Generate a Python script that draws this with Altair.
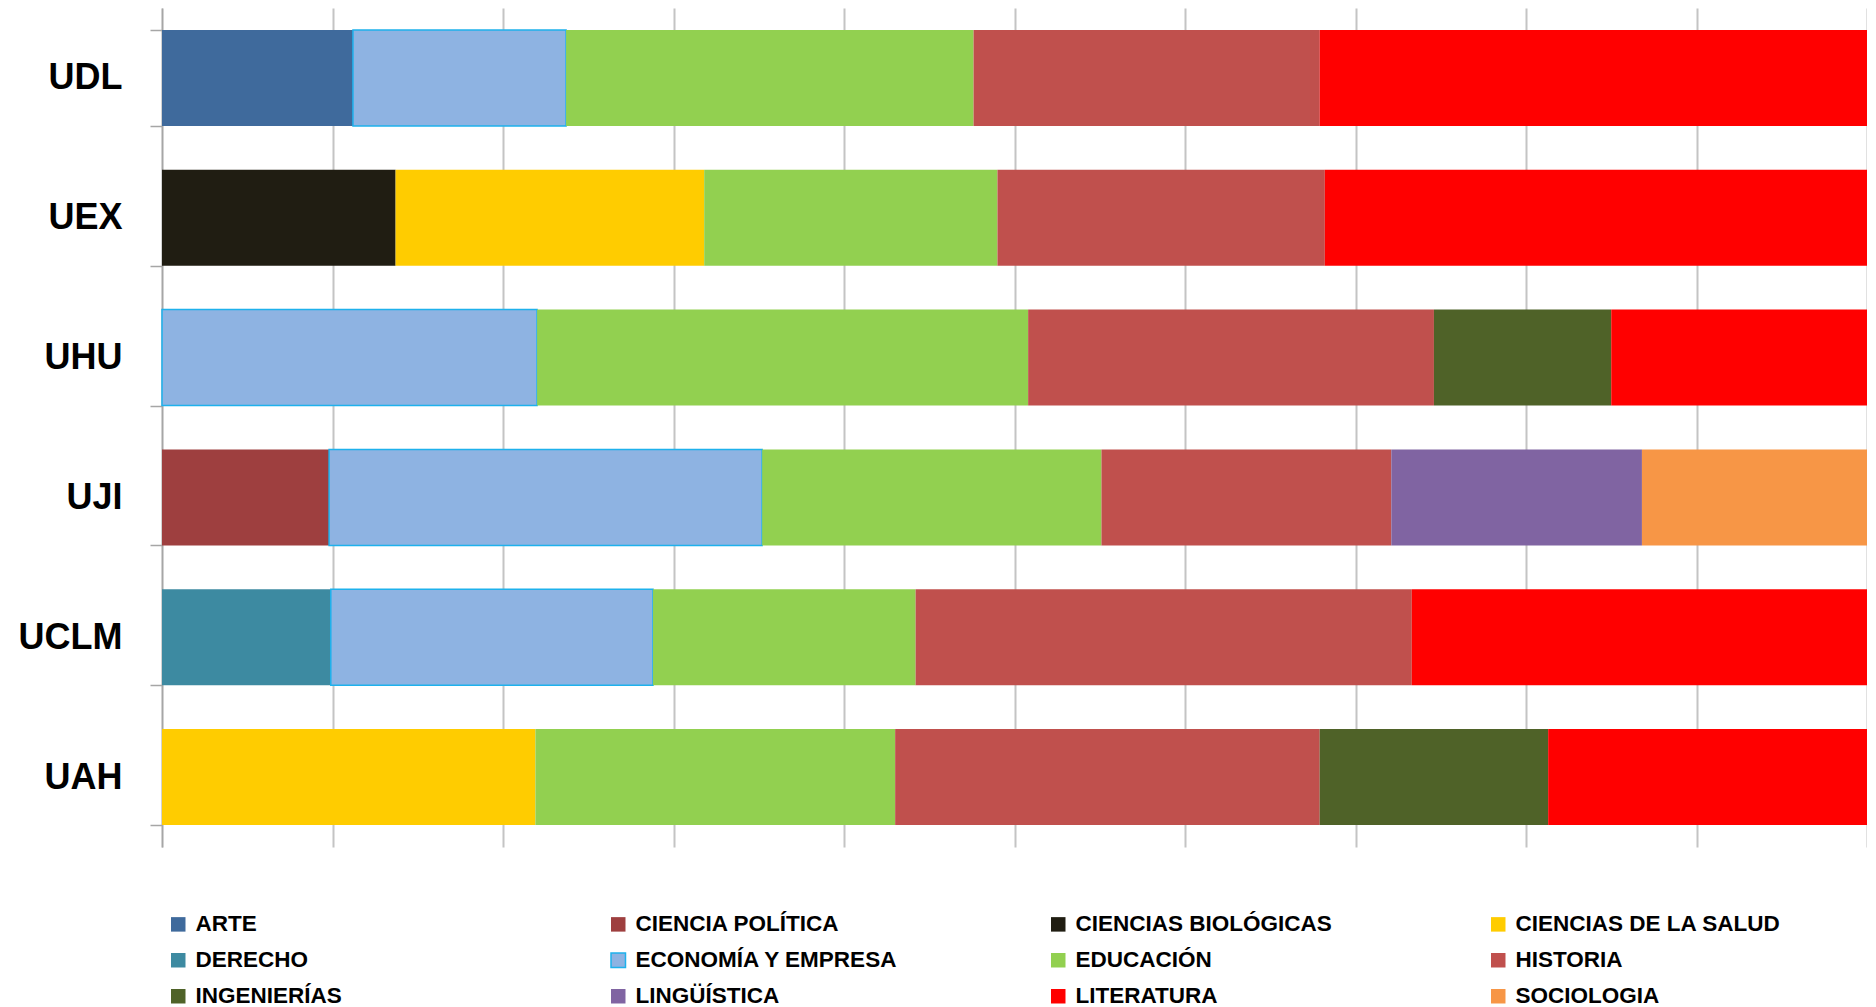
import altair as alt
import pandas as pd

universities = ["UDL", "UEX", "UHU", "UJI", "UCLM", "UAH"]

categories = [
    "ARTE", "CIENCIA POLÍTICA", "CIENCIAS BIOLÓGICAS", "CIENCIAS DE LA SALUD",
    "DERECHO", "ECONOMÍA Y EMPRESA", "EDUCACIÓN", "HISTORIA",
    "INGENIERÍAS", "LINGÜÍSTICA", "LITERATURA", "SOCIOLOGIA",
]
fill_colors = [
    "#3F6A9C", "#9E3F3F", "#201D12", "#FFCC00",
    "#3D8AA1", "#8EB3E2", "#92D050", "#C0504D",
    "#4F6228", "#8064A2", "#FF0000", "#F79646",
]
stroke_colors = [
    "rgba(0,0,0,0)", "rgba(0,0,0,0)", "rgba(0,0,0,0)", "rgba(0,0,0,0)",
    "rgba(0,0,0,0)", "#1EB1EC", "rgba(0,0,0,0)", "rgba(0,0,0,0)",
    "rgba(0,0,0,0)", "rgba(0,0,0,0)", "rgba(0,0,0,0)", "rgba(0,0,0,0)",
]

# percentage shares per university
udl_cats = ["ARTE", "ECONOMÍA Y EMPRESA", "EDUCACIÓN", "HISTORIA", "LITERATURA"]
udl_vals = [11.2, 12.5, 23.9, 20.3, 32.1]

uex_cats = ["CIENCIAS BIOLÓGICAS", "CIENCIAS DE LA SALUD", "EDUCACIÓN", "HISTORIA", "LITERATURA"]
uex_vals = [13.7, 18.1, 17.2, 19.2, 31.8]

uhu_cats = ["ECONOMÍA Y EMPRESA", "EDUCACIÓN", "HISTORIA", "INGENIERÍAS", "LITERATURA"]
uhu_vals = [22.0, 28.8, 23.8, 10.4, 15.0]

uji_cats = ["CIENCIA POLÍTICA", "ECONOMÍA Y EMPRESA", "EDUCACIÓN", "HISTORIA", "LINGÜÍSTICA", "SOCIOLOGIA"]
uji_vals = [9.8, 25.4, 19.9, 17.0, 14.7, 13.2]

uclm_cats = ["DERECHO", "ECONOMÍA Y EMPRESA", "EDUCACIÓN", "HISTORIA", "LITERATURA"]
uclm_vals = [9.9, 18.9, 15.4, 29.1, 26.7]

uah_cats = ["CIENCIAS DE LA SALUD", "EDUCACIÓN", "HISTORIA", "INGENIERÍAS", "LITERATURA"]
uah_vals = [21.9, 21.1, 24.9, 13.4, 18.7]

series = {
    "UDL": (udl_cats, udl_vals),
    "UEX": (uex_cats, uex_vals),
    "UHU": (uhu_cats, uhu_vals),
    "UJI": (uji_cats, uji_vals),
    "UCLM": (uclm_cats, uclm_vals),
    "UAH": (uah_cats, uah_vals),
}

rows = []
for u in universities:
    cats, vals = series[u]
    for c, v in zip(cats, vals):
        rows.append({"univ": u, "cat": c, "value": v, "ord": categories.index(c)})
df = pd.DataFrame(rows)

FONT = "Liberation Sans"
grid_vals = [i / 10 for i in range(11)]

legend = alt.Legend(
    title=None,
    orient="none",
    legendX=5,
    legendY=905,
    direction="horizontal",
    columns=4,
    gridAlign="all",
    columnPadding=146,
    rowPadding=13,
    padding=0,
    symbolType="square",
    symbolSize=210,
    symbolStrokeWidth=1.5,
    labelOffset=6,
    labelFont=FONT,
    labelFontSize=22.5,
    labelFontWeight="bold",
    labelColor="#000000",
    labelLimit=0,
)

chart = alt.Chart(df).mark_bar().encode(
    y=alt.Y(
        "univ:N",
        sort=universities,
        title=None,
        scale=alt.Scale(paddingInner=0.314, paddingOuter=0.157),
        axis=alt.Axis(
            domain=True,
            domainColor="#A6A6A6",
            domainWidth=1.5,
            ticks=True,
            tickBand="extent",
            tickSize=12,
            tickColor="#A6A6A6",
            tickWidth=1.5,
            labelFont=FONT,
            labelFontSize=36,
            labelFontWeight="bold",
            labelColor="#000000",
            labelPadding=28,
            grid=False,
        ),
    ),
    x=alt.X(
        "value:Q",
        stack="normalize",
        title=None,
        scale=alt.Scale(domain=[0, 1], nice=False),
        axis=alt.Axis(
            values=grid_vals,
            grid=True,
            gridColor="#C4C4C4",
            gridWidth=2,
            labels=False,
            ticks=False,
            domain=False,
        ),
    ),
    color=alt.Color("cat:N", scale=alt.Scale(domain=categories, range=fill_colors), legend=legend),
    stroke=alt.Stroke("cat:N", scale=alt.Scale(domain=categories, range=stroke_colors), legend=legend),
    strokeWidth=alt.value(1.5),
    order=alt.Order("ord:Q"),
).properties(
    width=1705,
    height=839,
    autosize=alt.AutoSizeParams(type="none"),
    padding={"left": 154, "top": 0, "right": 0, "bottom": 160},
).configure_view(stroke=None)

chart.save("out.html", embed_options={"renderer": "svg", "actions": False})
